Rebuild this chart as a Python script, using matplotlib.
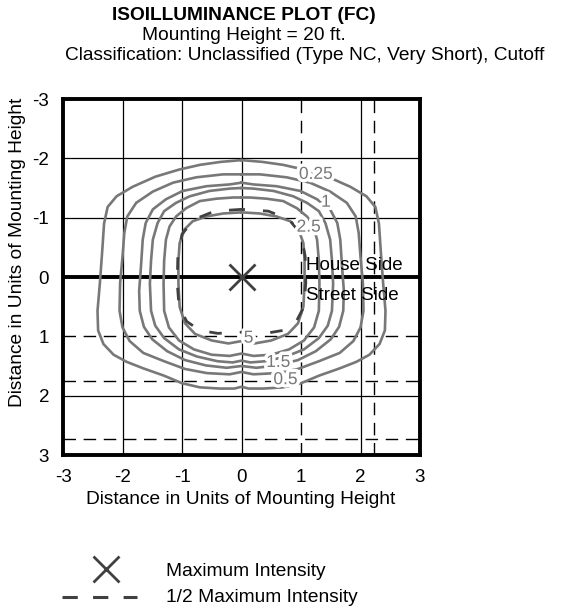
import numpy as np
import matplotlib
matplotlib.use('Agg')
import matplotlib.pyplot as plt
import matplotlib.patheffects as pe

plt.rcParams['font.family'] = ['Liberation Sans', 'DejaVu Sans']
plt.rcParams['lines.scale_dashes'] = False
plt.rcParams['axes.unicode_minus'] = False

# isolines, left half (x, y) from top centre round to bottom centre
levels = ['0.25', '0.5', '1', '1.5', '2.5', '5']
c_025 = [(0, -1.97), (-0.35, -1.94), (-0.70, -1.89), (-1.05, -1.81), (-1.45, -1.69), (-1.83, -1.52),
         (-2.10, -1.36), (-2.25, -1.18), (-2.31, -0.90), (-2.34, -0.45), (-2.38, 0.10), (-2.42, 0.57),
         (-2.41, 0.90), (-2.32, 1.13), (-2.15, 1.31), (-1.93, 1.43), (-1.65, 1.54), (-1.31, 1.66),
         (-1.00, 1.79), (-0.70, 1.86), (-0.37, 1.88), (-0.12, 1.88), (0, 1.85)]
c_05 = [(0, -1.73), (-0.31, -1.73), (-0.76, -1.68), (-1.15, -1.59), (-1.49, -1.44), (-1.77, -1.25),
        (-1.92, -1.02), (-1.97, -0.74), (-2.00, -0.34), (-2.04, 0.10), (-2.05, 0.57), (-2.00, 0.85),
        (-1.88, 1.08), (-1.65, 1.28), (-1.30, 1.42), (-0.95, 1.55), (-0.58, 1.62), (-0.20, 1.64), (0, 1.60)]
c_1 = [(0, -1.59), (-0.20, -1.56), (-0.59, -1.53), (-0.99, -1.45), (-1.27, -1.31), (-1.49, -1.14),
       (-1.61, -0.91), (-1.66, -0.63), (-1.69, -0.17), (-1.72, 0.23), (-1.71, 0.57), (-1.64, 0.84),
       (-1.50, 1.05), (-1.25, 1.25), (-0.95, 1.40), (-0.60, 1.49), (-0.25, 1.53), (0, 1.50)]
c_15 = [(0, -1.50), (-0.20, -1.49), (-0.54, -1.45), (-0.87, -1.36), (-1.10, -1.25), (-1.30, -1.11),
        (-1.41, -0.91), (-1.49, -0.63), (-1.52, -0.28), (-1.54, 0.11), (-1.52, 0.57), (-1.45, 0.82),
        (-1.30, 1.03), (-1.05, 1.22), (-0.75, 1.34), (-0.40, 1.42), (-0.15, 1.44), (0, 1.41)]
c_25 = [(0, -1.34), (-0.14, -1.34), (-0.42, -1.32), (-0.70, -1.28), (-0.93, -1.16), (-1.10, -1.02),
        (-1.21, -0.85), (-1.27, -0.63), (-1.30, -0.28), (-1.31, 0.11), (-1.30, 0.57), (-1.22, 0.85),
        (-1.05, 1.07), (-0.80, 1.22), (-0.50, 1.31), (-0.20, 1.33), (0, 1.29)]
c_5 = [(0, -1.09), (-0.31, -1.07), (-0.59, -1.02), (-0.82, -0.94), (-0.96, -0.80), (-1.04, -0.57),
       (-1.06, -0.28), (-1.06, 0.11), (-1.04, 0.50), (-0.95, 0.78), (-0.78, 0.96), (-0.50, 1.07),
       (-0.22, 1.12), (0, 1.08)]
half_max = [(0, -1.14), (-0.45, -1.11), (-0.80, -0.97), (-1.00, -0.72), (-1.07, -0.35), (-1.08, 0.10),
            (-1.05, 0.50), (-0.92, 0.75), (-0.70, 0.90), (-0.40, 0.95), (0, 0.93)]
contours = [c_025, c_05, c_1, c_15, c_25, c_5]

# label spots on the lines
label_pos = {'0.25': (1.25, -1.73), '1': (1.42, -1.26), '2.5': (1.13, -0.84),
             '5': (0.12, 1.03), '1.5': (0.62, 1.44), '0.5': (0.74, 1.73)}

max_pt = (0, 0)
ticks = [-3, -2, -1, 0, 1, 2, 3]
grid_x = [-2, -1, 0, 2]
grid_y = [-2, -1, 2]
ref_x = [1.0, 2.22]
ref_y = [1.0, 1.75, 2.73]


def full_loop(half):
    pts = list(half) + [(-x, y) for x, y in reversed(half[:-1])]
    pts.append(half[0])
    a = np.array(pts)
    return a[:, 0], a[:, 1]


fig = plt.figure(figsize=(5.66, 6.12), dpi=100)
ax = fig.add_axes([63 / 566, 1 - 455 / 612, 357 / 566, 356 / 612])

for g in grid_x:
    ax.axvline(g, color='black', lw=0.9, zorder=1)
for g in grid_y:
    ax.axhline(g, color='black', lw=0.9, zorder=1)
ax.axhline(0, color='black', lw=2.8, zorder=1)
for r in ref_x:
    ax.axvline(r, color='black', lw=1.0, linestyle=(0, (9, 5.5)), zorder=1)
for r in ref_y:
    ax.axhline(r, color='black', lw=1.0, linestyle=(0, (9, 5.5)), zorder=1)

gray = '#787878'
for c in contours:
    x, y = full_loop(c)
    ax.plot(x, y, color=gray, lw=1.9, zorder=3)

hx, hy = full_loop(half_max)
ax.plot(hx, hy, color='#404040', lw=2.0, linestyle=(0, (9, 13)), zorder=3)

for lab in levels:
    lx, ly = label_pos[lab]
    ax.text(lx, ly, lab, color=gray, fontsize=12.5, ha='center', va='center', zorder=4,
            path_effects=[pe.withStroke(linewidth=5, foreground='white')])

ax.plot([max_pt[0]], [max_pt[1]], marker='x', ms=19, mew=2.0, color='#404040', zorder=5)

ax.text(1.08, -0.2, 'House Side', fontsize=13.5, ha='left', va='center', zorder=6)
ax.text(1.08, 0.32, 'Street Side', fontsize=13.5, ha='left', va='center', zorder=6)

ax.set_xlim(-3, 3)
ax.set_ylim(3, -3)
ax.set_xticks(ticks)
ax.set_yticks(ticks)
ax.tick_params(length=0, labelsize=13.5, pad=10)
for s in ax.spines.values():
    s.set_linewidth(2.8)

fig.text(244 / 566, 1 - 16 / 612, 'ISOILLUMINANCE PLOT (FC)', fontsize=13.8, fontweight='bold',
         ha='center', va='center')
fig.text(244 / 566, 1 - 36 / 612, 'Mounting Height = 20 ft.', fontsize=13.8, ha='center', va='center')
fig.text(65 / 566, 1 - 56 / 612, 'Classification: Unclassified (Type NC, Very Short), Cutoff',
         fontsize=13.8, ha='left', va='center')
fig.text(241 / 566, 1 - 500 / 612, 'Distance in Units of Mounting Height', fontsize=13.8,
         ha='center', va='center')
fig.text(18 / 566, 1 - 252 / 612, 'Distance in Units of Mounting Height', fontsize=13.8,
         ha='center', va='center', rotation=90)

# legend drawn in figure coordinates
fig.lines.append(plt.Line2D([106 / 566], [1 - 569 / 612], marker='x', ms=19, mew=2.0,
                            color='#404040', transform=fig.transFigure))
fig.lines.append(plt.Line2D([62 / 566, 137 / 566], [1 - 597 / 612, 1 - 597 / 612], lw=2.2,
                            color='#404040', linestyle=(0, (11, 11)), transform=fig.transFigure))
fig.text(166 / 566, 1 - 572 / 612, 'Maximum Intensity', fontsize=13.8, ha='left', va='center')
fig.text(166 / 566, 1 - 598 / 612, '1/2 Maximum Intensity', fontsize=13.8, ha='left', va='center')

fig.savefig('out.png', dpi=100)
